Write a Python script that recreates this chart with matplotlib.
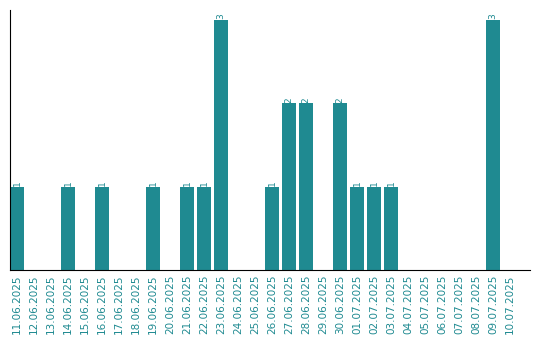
import matplotlib
matplotlib.use("Agg")
import matplotlib.pyplot as plt
import numpy as np

# Tägliche Anzahl
dates = ["11.06.2025", "12.06.2025", "13.06.2025", "14.06.2025", "15.06.2025",
         "16.06.2025", "17.06.2025", "18.06.2025", "19.06.2025", "20.06.2025",
         "21.06.2025", "22.06.2025", "23.06.2025", "24.06.2025", "25.06.2025",
         "26.06.2025", "27.06.2025", "28.06.2025", "29.06.2025", "30.06.2025",
         "01.07.2025", "02.07.2025", "03.07.2025", "04.07.2025", "05.07.2025",
         "06.07.2025", "07.07.2025", "08.07.2025", "09.07.2025", "10.07.2025"]
counts = [1, 0, 0, 1, 0, 1, 0, 0, 1, 0,
          1, 1, 3, 0, 0, 1, 2, 2, 0, 2,
          1, 1, 1, 0, 0, 0, 0, 0, 3, 0]

teal = "#1f8a91"
fig = plt.figure(figsize=(5.4, 3.4), dpi=100)
ax = fig.add_axes([10 / 540, 70 / 340, 520 / 540, 260 / 340])

x = np.arange(len(dates))
w = 14 / 17
bars = ax.bar(x, counts, width=w, align="edge", color=teal)

for xi, c in zip(x, counts):
    if c > 0:
        ax.text(xi + w / 2, c + 0.01, str(c), rotation=90, ha="center", va="bottom",
                fontsize=6.5, color=teal)

ax.set_xlim(0, 520 / 17)
ax.set_ylim(0, 3 * 260 / 250)
ax.set_xticks(x + w / 2)
ax.set_xticklabels(dates, rotation=90, fontsize=7.5, color=teal)
ax.tick_params(axis="x", length=0, pad=3)
ax.set_yticks([])
ax.spines["top"].set_visible(False)
ax.spines["right"].set_visible(False)

fig.savefig("out.png", dpi=100)
